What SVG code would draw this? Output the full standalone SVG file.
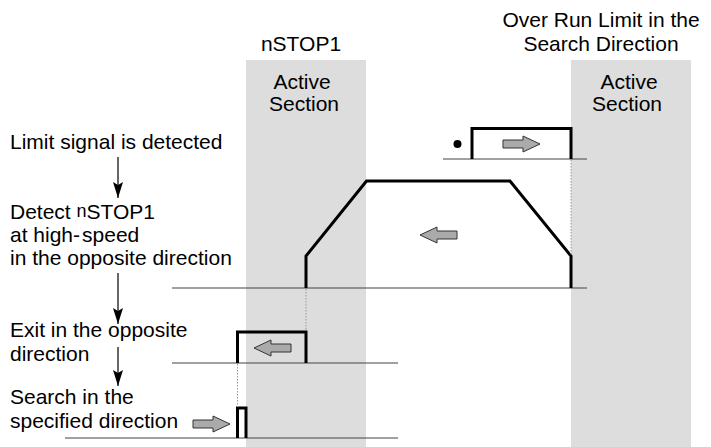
<svg xmlns="http://www.w3.org/2000/svg" width="711" height="447" viewBox="0 0 711 447">
<defs>
<style>
text{font-family:"Liberation Sans",Arial,sans-serif;font-size:21px;fill:#000}
.band{fill:#dddddd}
.mid{text-anchor:middle}
.base{stroke:#444;stroke-width:1.2;fill:none}
.pulse{stroke:#000;stroke-width:3;fill:none;stroke-linejoin:miter}
.dot{stroke:#999;stroke-width:1;stroke-dasharray:1.5 1.5;fill:none}
.barrow{fill:#aaaaaa;stroke:#333;stroke-width:1}
.conn{stroke:#000;stroke-width:1.2;fill:none}
</style>
<marker id="ah" viewBox="0 0 16 10" refX="16" refY="5" markerWidth="16" markerHeight="10" markerUnits="userSpaceOnUse" orient="auto">
<path d="M0,0 L3,5 L0,10 L16,5 Z" fill="#000"/>
</marker>
<path id="arR" d="M-37,-4 L-17,-4 L-17,-8 L0,0 L-17,8 L-17,4 L-37,4 Z"/>
</defs>
<rect width="711" height="447" fill="#fff"/>

<g id="band-nstop1">
<rect class="band" x="246" y="60" width="120" height="387"/>
<text class="mid" x="301" y="51">nSTOP1</text>
<text class="mid" x="302" y="89">Active</text>
<text class="mid" x="304" y="111">Section</text>
</g>

<g id="band-overrun">
<rect class="band" x="571" y="60" width="120" height="387"/>
<text class="mid" x="601" y="27">Over Run Limit in the</text>
<text class="mid" x="601" y="51">Search Direction</text>
<text class="mid" x="629" y="89">Active</text>
<text class="mid" x="627" y="111">Section</text>
</g>

<g id="step1">
<text x="10" y="149">Limit signal is detected</text>
<line class="base" x1="443" y1="159" x2="587" y2="159"/>
<polyline class="pulse" points="472,159 472,128.5 571,128.5 571,159"/>
<circle cx="457.5" cy="144" r="4" fill="#000"/>
<use href="#arR" class="barrow" transform="translate(540,144)"/>
</g>

<g id="step2">
<text x="10" y="219">Detect <tspan font-size="18" dy="-2">n</tspan><tspan dy="2">STOP1</tspan></text>
<text x="10" y="242">at high-<tspan dx="2">speed</tspan></text>
<text x="10" y="265">in the opposite direction</text>
<line class="base" x1="172" y1="288" x2="587" y2="288"/>
<polyline class="pulse" points="306,288 306,256 366.5,181 510,181 571,256 571,288"/>
<use href="#arR" class="barrow" transform="translate(420,235) scale(-1,1)"/>
<line class="dot" x1="571" y1="160" x2="571" y2="255"/>
</g>

<g id="step3">
<text x="10" y="337">Exit in the opposite</text>
<text x="10" y="361">direction</text>
<line class="base" x1="172" y1="363" x2="398" y2="363"/>
<polyline class="pulse" points="237.5,363 237.5,332 306,332 306,363"/>
<use href="#arR" class="barrow" transform="translate(254,348) scale(-1,1)"/>
<line class="dot" x1="306" y1="289" x2="306" y2="331"/>
</g>

<g id="step4">
<text x="10" y="404">Search in the</text>
<text x="10" y="428">specified direction</text>
<line class="base" x1="65" y1="438" x2="398" y2="438"/>
<polyline class="pulse" points="237.5,438 237.5,408 246,408 246,438"/>
<use href="#arR" class="barrow" transform="translate(230,424)"/>
<line class="dot" x1="237.5" y1="364" x2="237.5" y2="407"/>
</g>

<g id="connectors">
<line class="conn" x1="118" y1="157" x2="118" y2="198" marker-end="url(#ah)"/>
<line class="conn" x1="118" y1="273" x2="118" y2="324" marker-end="url(#ah)"/>
<line class="conn" x1="118" y1="347" x2="118" y2="386" marker-end="url(#ah)"/>
</g>
</svg>
